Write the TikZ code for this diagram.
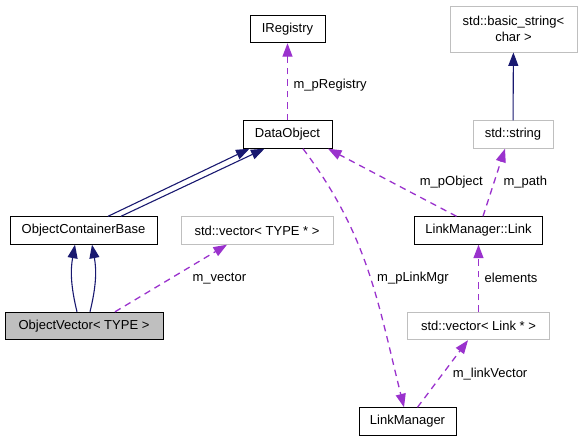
\documentclass[tikz,border=0pt]{standalone}
\usepackage{fontspec}
\setmainfont{Liberation Sans}
\usetikzlibrary{arrows.meta}

\definecolor{navy}{HTML}{191970}
\definecolor{orchid}{HTML}{9A32CD}
\definecolor{grey75}{HTML}{BFBFBF}

\begin{document}
\begin{tikzpicture}[x=1pt,y=-1pt,>={Triangle[length=13.5pt,width=10pt]},
    font=\fontsize{13}{16}\selectfont,
    class/.style={draw=black, line width=0.9pt, minimum height=27.5pt, inner sep=0pt},
    undocumented/.style={class, draw=grey75},
    inherit/.style={->, navy, line width=1.1pt},
    usage/.style={->, orchid, line width=1.3pt, dash pattern=on 6.5pt off 5pt},
    lbl/.style={inner sep=2pt, text=black}]
    \useasboundingbox (0,0) rectangle (581,443);

    \node[class, minimum width=75pt] (ireg) at (287.5,29) {IRegistry};
    \node[undocumented, minimum width=127pt, minimum height=46pt, align=center] (bstr) at (513.5,29) {std::basic\_string<\\char >};
    \node[class, minimum width=89pt] (dobj) at (287.5,134.5) {DataObject};
    \node[undocumented, minimum width=80pt] (str) at (513,134.5) {std::string};
    \node[class, minimum width=147pt] (ocb) at (83.5,230.5) {ObjectContainerBase};
    \node[undocumented, minimum width=152pt] (vect) at (257,230.5) {std::vector< TYPE * >};
    \node[class, minimum width=128pt] (link) at (478.5,230.5) {LinkManager::Link};
    \node[class, fill=grey75, minimum width=158pt] (ovec) at (84,326) {ObjectVector< TYPE >};
    \node[undocumented, minimum width=142pt] (vecl) at (478.5,326) {std::vector< Link * >};
    \node[class, minimum width=97pt] (lmgr) at (407.5,421.5) {LinkManager};

    % inheritance
    \path[inherit] ([xshift=24.5pt]ocb.north) edge ([xshift=-38pt]dobj.south);
    \path[inherit] ([xshift=37.5pt]ocb.north) edge ([xshift=-23pt]dobj.south);
    \path[inherit] ([xshift=-7pt]ovec.north) edge [bend left=12] ([xshift=-8.5pt]ocb.south);
    \path[inherit] ([xshift=6pt]ovec.north) edge [bend right=12] ([xshift=8.5pt]ocb.south);
    \path[inherit] (str) edge (bstr);

    % usage
    \path[usage] (dobj) edge node[lbl, pos=.45, right=3.5pt] {m\_pRegistry} (ireg);
    \path[usage] ([xshift=31pt]ovec.north) edge node[lbl, pos=.5, right=19pt] {m\_vector} ([xshift=-30pt]vect.south);
    \path[usage] ([xshift=-22pt]link.north) edge node[lbl, pos=.5, right=25pt] {m\_pObject} ([xshift=40.5pt]dobj.south);
    \path[usage] ([xshift=4.5pt]link.north) edge node[lbl, pos=.5, right=7pt] {m\_path} ([xshift=-8pt]str.south);
    \path[usage] (vecl) edge node[lbl, right=3.5pt] {elements} (link);
    \path[usage] ([xshift=15.5pt]dobj.south) edge [out=-53, in=104] node[lbl, pos=.53, right=4pt] {m\_pLinkMgr} ([xshift=-3.5pt]lmgr.north);
    \path[usage] ([xshift=10pt]lmgr.north) edge node[lbl, pos=.5, right=7.5pt] {m\_linkVector} ([xshift=-10.5pt]vecl.south);
\end{tikzpicture}
\end{document}
